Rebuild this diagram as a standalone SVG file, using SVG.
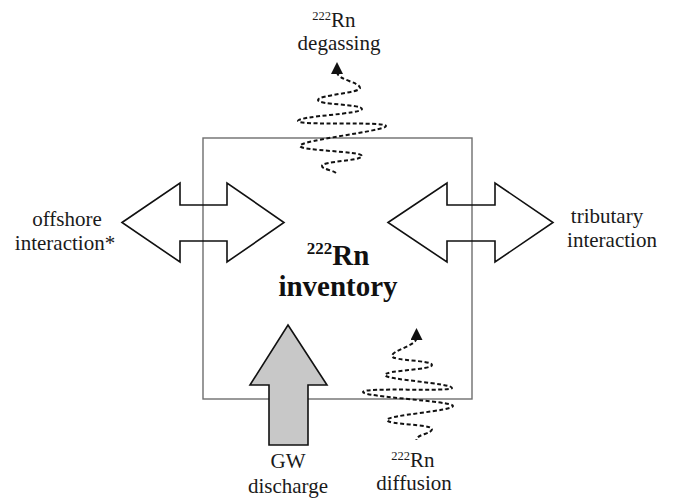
<svg xmlns="http://www.w3.org/2000/svg" width="675" height="498" viewBox="0 0 675 498">
  <defs>
    <style>
      .lbl { font-family: "Liberation Serif", "Times New Roman", serif; font-size: 21px; fill: #1a1a1a; text-anchor: middle; }
      .sup { font-size: 12.5px; }
      .big { font-family: "Liberation Serif", "Times New Roman", serif; font-size: 29px; font-weight: bold; fill: #111; text-anchor: middle; }
      .bigsup { font-size: 17px; }
      .dbl { fill: none; stroke: #111; stroke-width: 1.6; stroke-linejoin: miter; }
      .gw { fill: #c8c8c8; stroke: #111; stroke-width: 1.6; }
      .box { fill: none; stroke: #6e6e6e; stroke-width: 1.4; }
      .spiral { fill: none; stroke: #111; stroke-width: 2; stroke-dasharray: 4 2.5; stroke-linecap: butt; }
    </style>
    <marker id="head" viewBox="0 0 12 12" refX="2" refY="6" markerWidth="12" markerHeight="12" markerUnits="userSpaceOnUse" orient="auto-start-reverse">
      <path d="M0,0 L12,6 L0,12 Z" fill="#111"/>
    </marker>
  </defs>
  <rect width="675" height="498" fill="#ffffff"/>

  <g id="inventory-box">
    <rect class="box" x="203" y="138" width="269" height="261"/>
    <text class="big" x="338" y="265"><tspan class="bigsup" dy="-11">222</tspan><tspan dy="11">Rn</tspan></text>
    <text class="big" x="338" y="296">inventory</text>
  </g>

  <g id="connectors">
    <g id="offshore-arrow">
      <polygon class="dbl" points="122,222.5 180,183 180,205 227,205 227,183 284,222.5 227,262 227,241 180,241 180,262"/>
    </g>
    <g id="tributary-arrow">
      <polygon class="dbl" points="388,222.5 447,183 447,205 495,205 495,183 553,222.5 495,262 495,241 447,241 447,262"/>
    </g>
    <g id="degassing-spiral">
      <path class="spiral" marker-start="url(#head)" d="M337,72 C337,80 360,82 360,88 C360,93 318,95 318,100 C318,105 362,104 362,109 C362,114 298,116 298,121 C298,126 386,121 386,126 C386,131 300,140 300,146 C300,151 362,151 362,156 C362,161 322,161 322,166 C322,170 337,170 337,175"/>
    </g>
    <g id="diffusion-spiral">
      <path class="spiral" marker-start="url(#head)" d="M416.5,338 C416.5,346 392,350 392,356 C392,361 432,360 432,365 C432,370 385,370 385,375 C385,380 452,383 452,388 C452,392 363,387 363,392 C363,397 453,401 453,406 C453,411 387,415 387,420 C387,425 432,424 432,429 C432,434 416.5,434 416.5,440"/>
    </g>
    <g id="gw-arrow">
      <polygon class="gw" points="288,325 327,385 308,385 308,445 269,445 269,385 250,385"/>
    </g>
  </g>

  <g id="label-degassing">
    <text class="lbl" x="334" y="27"><tspan class="sup" dy="-7">222</tspan><tspan dy="7">Rn</tspan></text>
    <text class="lbl" x="339" y="50">degassing</text>
  </g>
  <g id="label-offshore">
    <text class="lbl" x="67" y="226">offshore</text>
    <text class="lbl" x="65" y="250">interaction*</text>
  </g>
  <g id="label-tributary">
    <text class="lbl" x="607" y="223">tributary</text>
    <text class="lbl" x="612" y="247">interaction</text>
  </g>
  <g id="label-gw">
    <text class="lbl" x="288" y="468">GW</text>
    <text class="lbl" x="288" y="493">discharge</text>
  </g>
  <g id="label-diffusion">
    <text class="lbl" x="413" y="467"><tspan class="sup" dy="-7">222</tspan><tspan dy="7">Rn</tspan></text>
    <text class="lbl" x="414" y="490">diffusion</text>
  </g>
</svg>
